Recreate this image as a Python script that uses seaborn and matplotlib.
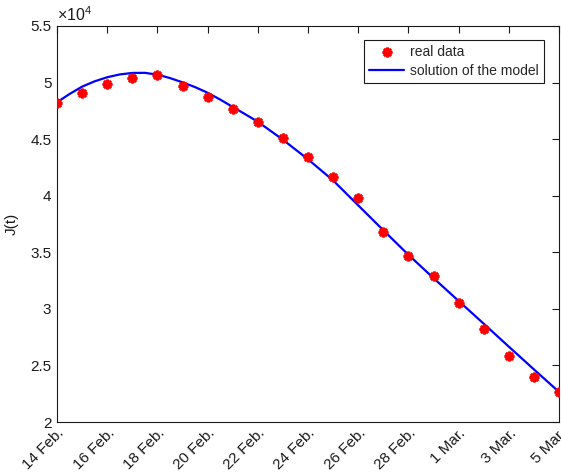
import matplotlib
matplotlib.use("Agg")
import matplotlib.pyplot as plt
from matplotlib.ticker import FuncFormatter, MultipleLocator
import seaborn as sns
import pandas as pd

# Observed values, one per day starting 14 Feb
day = list(range(21))
real_J = [48200, 49050, 49880, 50380, 50670, 49680, 48760, 47700, 46490,
          45090, 43420, 41680, 39760, 36830, 34710, 32940, 30550, 28200,
          25860, 24000, 22680]

# Model solution J(t)
model_t = [0, 0.5, 1, 1.5, 2, 2.5, 3, 3.5, 4, 4.5, 5, 5.5, 6, 6.5, 7, 7.5,
           8, 9, 10, 11, 12, 13, 14, 15, 16, 17, 18, 19, 20]
model_J = [48260, 48990, 49640, 50110, 50470, 50720, 50850, 50860, 50700,
           50400, 50020, 49600, 49100, 48500, 47850, 47200, 46540, 44950,
           43220, 41350, 39150, 36950, 34780, 32720, 30700, 28690, 26660,
           24650, 22660]

tick_pos = [0, 2, 4, 6, 8, 10, 12, 14, 16, 18, 20]
tick_labels = ["14 Feb.", "16 Feb.", "18 Feb.", "20 Feb.", "22 Feb.",
               "24 Feb.", "26 Feb.", "28 Feb.", "1 Mar.", "3 Mar.", "5 Mar."]

sns.set_style("white")
plt.rcParams["font.family"] = ["Liberation Sans", "DejaVu Sans"]
plt.rcParams["mathtext.fontset"] = "custom"
plt.rcParams["mathtext.rm"] = "Liberation Sans"
plt.rcParams["mathtext.it"] = "Liberation Sans"

ink = "#1a1a1a"

fig = plt.figure(figsize=(5.61, 4.72), dpi=100)
ax = fig.add_axes([57 / 561, 1 - 422 / 472, 502 / 561, 396 / 472])

df_real = pd.DataFrame({"t": day, "J": real_J})
df_model = pd.DataFrame({"t": model_t, "J": model_J})

sns.lineplot(data=df_model, x="t", y="J", ax=ax, color="#0000ff", lw=1.6,
             label="solution of the model", zorder=2)
ax.plot(df_real["t"], df_real["J"], linestyle="none", marker=(8, 2, 0),
        ms=7, mew=1.9, color="#ff0000", label="real data", zorder=3)

ax.set_xlim(0, 20)
ax.set_ylim(20000, 55000)
ax.set_xticks(tick_pos)
ax.set_xticklabels(tick_labels, rotation=45, ha="right", va="top",
                   rotation_mode="anchor")
ax.yaxis.set_major_locator(MultipleLocator(5000))
ax.yaxis.set_major_formatter(FuncFormatter(lambda v, p: f"{v / 1e4:g}"))
ax.text(0.0, 1.006, r"$\times10^{4}$", transform=ax.transAxes,
        ha="left", va="bottom", fontsize=11.5, color=ink)

ax.set_xlabel("")
ax.set_ylabel("J(t)", fontsize=11, color=ink, labelpad=8)

ax.tick_params(direction="in", length=5, width=0.8, top=True, right=True,
               labelsize=11, colors=ink, pad=4)
ax.tick_params(axis="x", pad=3)
for s in ax.spines.values():
    s.set_visible(True)
    s.set_color(ink)
    s.set_linewidth(0.8)

handles, labels = ax.get_legend_handles_labels()
order = [labels.index("real data"), labels.index("solution of the model")]
leg = ax.legend([handles[i] for i in order], [labels[i] for i in order],
                loc="upper right", bbox_to_anchor=(0.97, 0.965),
                fontsize=10, frameon=True, fancybox=False, edgecolor=ink,
                framealpha=1, handlelength=2.5, borderpad=0.4,
                labelspacing=0.3, handletextpad=0.4, borderaxespad=0)
leg.get_frame().set_linewidth(0.8)

fig.savefig("out.png", dpi=100)
